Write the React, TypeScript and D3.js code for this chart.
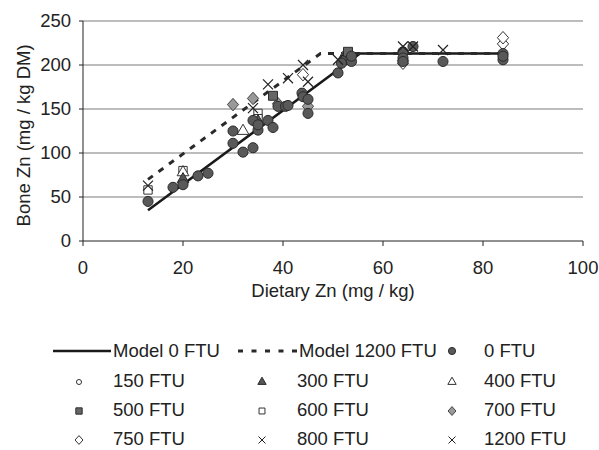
import React from 'react';
import * as d3 from 'd3';

// readings per series: [dietary Zn, bone Zn]
const ftu0: [number, number][] = [
  [13, 45], [18, 61], [20, 64], [23, 74], [25, 77], [30, 125], [30, 111],
  [32, 101], [34, 106], [34, 137], [35, 126], [35, 132], [37, 137], [38, 129],
  [39, 153], [40.5, 153], [41, 154], [43.8, 168], [44, 164], [45, 161], [45, 145],
  [51, 191], [51.7, 202], [53.7, 204], [53.7, 210], [64, 215], [64, 208], [64, 204],
  [66, 221], [72, 204], [84, 213], [84, 206], [84, 210],
];
const ftu150: [number, number][] = [[13, 58], [35, 140], [53, 207], [66, 220]];
const ftu300: [number, number][] = [[20, 70], [35, 136], [52, 206]];
const ftu400: [number, number][] = [[20, 78], [32, 125], [52, 208]];
const ftu500: [number, number][] = [[38, 165], [53, 215]];
const ftu600: [number, number][] = [[13, 58], [20, 80], [35, 145], [35, 139]];
const ftu700: [number, number][] = [[30, 155], [34, 162], [39, 156], [45, 153], [64, 205]];
const ftu750: [number, number][] = [[44, 189], [64, 202], [84, 224], [84, 231]];
const ftu800: [number, number][] = [[37, 178], [41, 185], [44, 200], [45, 181], [64, 221], [72, 217]];
const ftu1200: [number, number][] = [[13, 63], [34, 151], [51, 206], [66, 221]];

const model0: [number, number][] = [[13, 35], [55.4, 213], [84, 213]];
const model1200: [number, number][] = [[13, 70], [47.5, 213], [84, 213]];

const xTicks = [0, 20, 40, 60, 80, 100];
const yTicks = [0, 50, 100, 150, 200, 250];

const symTimes = (d3 as any).symbolTimes ?? (d3 as any).symbolX;
// square-ish diamond, a bit narrower than tall
const symDiamond = {
  draw(ctx: any, size: number) {
    const h = Math.sqrt(size / 1.8);
    const w = h * 0.9;
    ctx.moveTo(0, -h);
    ctx.lineTo(w, 0);
    ctx.lineTo(0, h);
    ctx.lineTo(-w, 0);
    ctx.closePath();
  },
};

type Style = { type: any; size: number; fill: string; stroke: string; sw: number };
const styles: Record<string, Style> = {
  '0 FTU': { type: d3.symbolCircle, size: 80, fill: '#595959', stroke: '#2b2b2b', sw: 1 },
  '150 FTU': { type: d3.symbolCircle, size: 40, fill: '#fff', stroke: '#333', sw: 1 },
  '300 FTU': { type: d3.symbolTriangle, size: 60, fill: '#555', stroke: '#2b2b2b', sw: 1 },
  '400 FTU': { type: d3.symbolTriangle, size: 60, fill: '#fff', stroke: '#333', sw: 1 },
  '500 FTU': { type: d3.symbolSquare, size: 80, fill: '#666', stroke: '#2b2b2b', sw: 1 },
  '600 FTU': { type: d3.symbolSquare, size: 70, fill: '#fff', stroke: '#333', sw: 1 },
  '700 FTU': { type: symDiamond, size: 70, fill: '#999', stroke: '#444', sw: 1 },
  '750 FTU': { type: symDiamond, size: 70, fill: '#fff', stroke: '#333', sw: 1 },
  '800 FTU': { type: symTimes, size: 67, fill: 'none', stroke: '#222', sw: 1.2 },
  '1200 FTU': { type: symTimes, size: 67, fill: 'none', stroke: '#222', sw: 1.2 },
};

const series: [string, [number, number][]][] = [
  ['150 FTU', ftu150], ['600 FTU', ftu600], ['400 FTU', ftu400], ['300 FTU', ftu300],
  ['700 FTU', ftu700], ['750 FTU', ftu750], ['500 FTU', ftu500], ['0 FTU', ftu0],
  ['800 FTU', ftu800], ['1200 FTU', ftu1200],
];

const legendRows = [
  ['150 FTU', '300 FTU', '400 FTU'],
  ['500 FTU', '600 FTU', '700 FTU'],
  ['750 FTU', '800 FTU', '1200 FTU'],
];

const W = 599, H = 450;
const m = { left: 83, right: 16, top: 21, bottom: 209 };
const font = '"Liberation Sans", Arial, sans-serif';
const fs = 18.5;

export default function App() {
  const x = d3.scaleLinear().domain([0, 100]).range([m.left, W - m.right]);
  const y = d3.scaleLinear().domain([0, 250]).range([H - m.bottom, m.top]);
  const line = d3.line<[number, number]>().x(d => x(d[0])).y(d => y(d[1]));
  const sym = (name: string, scale = 1) => {
    const s = styles[name];
    return d3.symbol().type(s.type).size(s.size * scale)() as string;
  };

  const leg = [351, 381, 410, 439];
  const colMarker = [79, 262, 452];
  const colText = [113, 297, 484];

  return (
    <svg width={W} height={H} style={{ position: 'absolute', left: 0, top: 0, fontFamily: font }}>
      <rect width={W} height={H} fill="#fff" />
      {yTicks.slice(1).map(t => (
        <line key={t} x1={x(0)} x2={x(100)} y1={y(t)} y2={y(t)} stroke="#7a7a7a" strokeWidth={1} />
      ))}
      <line x1={x(0)} x2={x(0)} y1={y(0)} y2={y(250)} stroke="#222" />
      <line x1={x(0)} x2={x(100)} y1={y(0)} y2={y(0)} stroke="#222" />
      {yTicks.map(t => (
        <g key={t}>
          <line x1={x(0) - 4} x2={x(0)} y1={y(t)} y2={y(t)} stroke="#222" />
          <text x={x(0) - 12} y={y(t)} dy="0.35em" textAnchor="end" fontSize={fs} fill="#222">{t}</text>
        </g>
      ))}
      {xTicks.map(t => (
        <g key={t}>
          <line x1={x(t)} x2={x(t)} y1={y(0)} y2={y(0) + 5} stroke="#222" />
          <text x={x(t)} y={y(0) + 33} textAnchor="middle" fontSize={fs} fill="#222">{t}</text>
        </g>
      ))}
      <text x={x(50)} y={297} textAnchor="middle" fontSize={fs} fill="#222">Dietary Zn (mg / kg)</text>
      <text transform={`translate(30,${y(120)}) rotate(-90)`} textAnchor="middle" fontSize={fs} fill="#222">
        Bone Zn (mg / kg DM)
      </text>

      <path d={line(model0) as string} fill="none" stroke="#1a1a1a" strokeWidth={2.5} />
      <path d={line(model1200) as string} fill="none" stroke="#2a2a2a" strokeWidth={3} strokeDasharray="6,7" />

      {series.map(([name, pts]) => {
        const s = styles[name];
        return (
          <g key={name}>
            {pts.map((p, i) => (
              <path key={i} d={sym(name)} transform={`translate(${x(p[0])},${y(p[1])})`}
                fill={s.fill} stroke={s.stroke} strokeWidth={s.sw} />
            ))}
          </g>
        );
      })}

      {/* legend */}
      <line x1={53} x2={111} y1={leg[0]} y2={leg[0]} stroke="#1a1a1a" strokeWidth={2.5} />
      <text x={colText[0]} y={leg[0]} dy="0.35em" fontSize={fs} fill="#222">Model 0 FTU</text>
      <line x1={238} x2={297} y1={leg[0]} y2={leg[0]} stroke="#2a2a2a" strokeWidth={3} strokeDasharray="5,8.5" />
      <text x={colText[1] + 2} y={leg[0]} dy="0.35em" fontSize={fs} fill="#222">Model 1200 FTU</text>
      <path d={sym('0 FTU', 0.5)} transform={`translate(${colMarker[2]},${leg[0]})`}
        fill={styles['0 FTU'].fill} stroke={styles['0 FTU'].stroke} />
      <text x={colText[2]} y={leg[0]} dy="0.35em" fontSize={fs} fill="#222">0 FTU</text>
      {legendRows.map((row, r) => row.map((name, c) => {
        const s = styles[name];
        return (
          <g key={name}>
            <path d={sym(name, 0.5)} transform={`translate(${colMarker[c]},${leg[r + 1] + 1})`}
              fill={s.fill} stroke={s.stroke} strokeWidth={1} />
            <text x={colText[c]} y={leg[r + 1]} dy="0.35em" fontSize={fs} fill="#222">{name}</text>
          </g>
        );
      }))}
    </svg>
  );
}
